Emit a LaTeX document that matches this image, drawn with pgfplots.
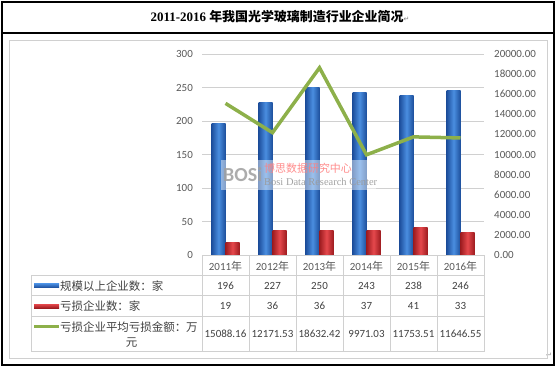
\documentclass[border=0pt]{standalone}
\usepackage{pgfplots}
\pgfplotsset{compat=1.18}
\usepackage{fontspec}
\setmainfont{Carlito}
\newfontfamily\cjk{Noto Sans CJK SC}
\newfontfamily\tnr{Liberation Serif}
\newfontfamily\dejavu{DejaVu Sans}
\definecolor{bluedark}{HTML}{1D4F9C}
\definecolor{bluelight}{HTML}{4A8EE0}
\definecolor{reddark}{HTML}{9E1C20}
\definecolor{redlight}{HTML}{E5484C}
\definecolor{greenline}{HTML}{8DB04A}
\definecolor{labelgray}{HTML}{595959}
\definecolor{textgray}{HTML}{404040}
\definecolor{linegray}{HTML}{D0D0D0}
\pgfplotsset{
  bluebar/.style={ybar, bar width=14bp, bar shift=-7bp, draw=none, left color=bluedark, right color=bluedark, middle color=bluelight},
  redbar/.style={ybar, bar width=14bp, bar shift=7bp, draw=none, left color=reddark, right color=reddark, middle color=redlight},
}
\begin{document}
\begin{tikzpicture}
\begin{scope}[x=1bp,y=1bp]
\useasboundingbox (0,0) rectangle (557,368);
% outer frame
\draw[black, line width=1.5bp] (2,3) rectangle (554,366);
\draw[black, line width=1.2bp] (2,335) -- (554,335);
\node[font=\fontsize{13}{13}\selectfont\bfseries, inner sep=0pt] at (280,351) {\tnr\bfseries 2011-2016 \cjk\bfseries 年我国光学玻璃制造行业企业简况{\dejavu\mdseries\fontsize{7}{7}\selectfont\color{gray}↵}};
\node[font=\fontsize{7}{7}\selectfont, text=gray] at (549,13) {\dejavu ↵};
% chart border
\draw[linegray, line width=0.8bp] (9,10) rectangle (547,328);
\end{scope}

\begin{axis}[
  at={(202bp,113bp)}, anchor=south west, scale only axis,
  width=282bp, height=201bp,
  xmin=-0.5, xmax=5.5, ymin=0, ymax=300,
  ytick={0,50,...,300}, xtick=\empty,
  axis line style={draw=none}, major tick length=0pt,
  ymajorgrids, grid style={draw=linegray, line width=0.7bp},
  /pgf/number format/assume math mode=true,
  yticklabel style={font=\fontsize{11}{11}\selectfont, text=labelgray, inner sep=0pt, anchor=east, xshift=-9bp},
]
\addplot[bluebar] coordinates {(0,196)};
\addplot[bluebar] coordinates {(1,227)};
\addplot[bluebar] coordinates {(2,250)};
\addplot[bluebar] coordinates {(3,243)};
\addplot[bluebar] coordinates {(4,238)};
\addplot[bluebar] coordinates {(5,246)};
\addplot[redbar] coordinates {(0,19)};
\addplot[redbar] coordinates {(1,36)};
\addplot[redbar] coordinates {(2,36)};
\addplot[redbar] coordinates {(3,37)};
\addplot[redbar] coordinates {(4,41)};
\addplot[redbar] coordinates {(5,33)};
\end{axis}

\begin{scope}[x=1bp,y=1bp]
% watermark
\fill[white, opacity=0.45] (221,178) rectangle (376,208);
\node[font=\fontsize{20}{20}\selectfont\bfseries, text=gray!75, opacity=0.85, anchor=west, inner sep=0pt] at (223,193) {BOSi};
\node[font=\fontsize{11}{11}\selectfont, text=red!50, opacity=0.9, anchor=west, inner sep=0pt] at (264,200) {\cjk 博思数据研究中心};
\node[font=\fontsize{10.5}{10.5}\selectfont, text=gray!80, opacity=0.9, anchor=west, inner sep=0pt] at (264,186) {\tnr Bosi Data Research Center};
\end{scope}

\begin{axis}[
  at={(202bp,113bp)}, anchor=south west, scale only axis,
  width=282bp, height=201bp,
  xmin=-0.5, xmax=5.5, ymin=0, ymax=20000,
  ytick={0,2000,...,20000}, xtick=\empty,
  axis y line*=right, axis x line=none,
  axis line style={draw=none}, major tick length=0pt,
  scaled y ticks=false,
  /pgf/number format/assume math mode=true,
  yticklabel style={font=\fontsize{11}{11}\selectfont, text=labelgray, inner sep=0pt, anchor=west, xshift=10bp,
    /pgf/number format/.cd, fixed, fixed zerofill, precision=2, 1000 sep={}},
]
\addplot[color=greenline, line width=3.5bp, mark=none]
  coordinates {(0,15088.16) (1,12171.53) (2,18632.42) (3,9971.03) (4,11753.51) (5,11646.55)};
\end{axis}

\begin{scope}[x=1bp,y=1bp]
% data table
\begin{scope}[linegray, line width=0.7bp]
\draw (202,113) -- (484,113);
\draw (31,92.3) -- (484,92.3);
\draw (31,72.3) -- (484,72.3);
\draw (31,52) -- (484,52);
\draw (31,16.3) -- (484,16.3);
\draw (31,16.3) -- (31,92.3);
\foreach \xx in {202,249,296,343,390,437,484} {\draw (\xx,16.3) -- (\xx,113);}
\end{scope}
\foreach \yr [count=\i from 0] in {2011,2012,2013,2014,2015,2016} {
  \node[font=\fontsize{11}{11}\selectfont, text=labelgray, inner sep=0pt] at (225.5+47*\i,102) {\yr\cjk 年};
}
\foreach \v [count=\i from 0] in {196,227,250,243,238,246} {
  \node[font=\fontsize{11}{11}\selectfont, text=textgray, inner sep=0pt] at (225.5+47*\i,82.3) {\v};
}
\foreach \v [count=\i from 0] in {19,36,36,37,41,33} {
  \node[font=\fontsize{11}{11}\selectfont, text=textgray, inner sep=0pt] at (225.5+47*\i,62) {\v};
}
\foreach \v [count=\i from 0] in {15088.16,12171.53,18632.42,9971.03,11753.51,11646.55} {
  \node[font=\fontsize{11}{11}\selectfont, text=textgray, inner sep=0pt] at (225.5+47*\i,34) {\v};
}
% legend keys
\shade[top color=bluelight, bottom color=bluedark] (34,80.5) rectangle (59,84.5);
\shade[top color=redlight, bottom color=reddark] (34,60) rectangle (59,64);
\draw[greenline, line width=2.5bp] (34,41.3) -- (59,41.3);
\node[font=\fontsize{11.5}{11.5}\selectfont, text=textgray, anchor=west, inner sep=0pt] at (60,82.3) {\cjk 规模以上企业数：家};
\node[font=\fontsize{11.5}{11.5}\selectfont, text=textgray, anchor=west, inner sep=0pt] at (60,62) {\cjk 亏损企业数：家};
\node[font=\fontsize{11.5}{11.5}\selectfont, text=textgray, anchor=west, inner sep=0pt] at (60,41.3) {\cjk 亏损企业平均亏损金额：万};
\node[font=\fontsize{11.5}{11.5}\selectfont, text=textgray, inner sep=0pt] at (131.7,25) {\cjk 元};
\end{scope}
\end{tikzpicture}
\end{document}
